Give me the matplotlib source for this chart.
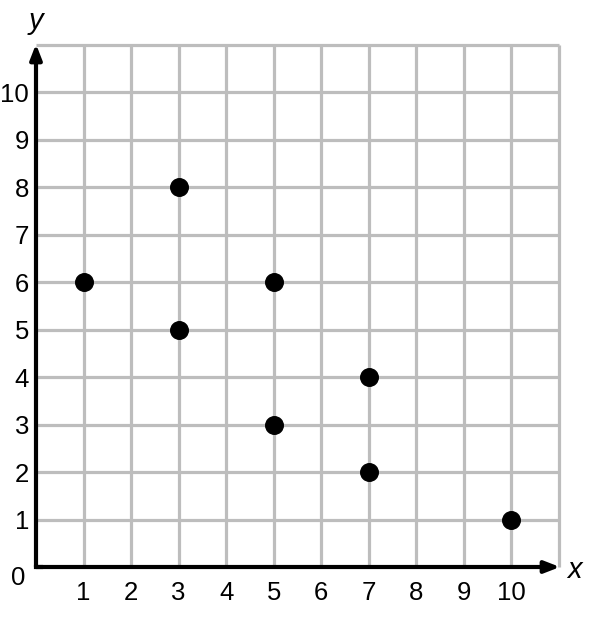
import matplotlib
matplotlib.use("Agg")
import matplotlib.pyplot as plt

plt.rcParams['font.family'] = ['Liberation Sans', 'DejaVu Sans']

x_vals = [1, 3, 3, 5, 5, 7, 7, 10]
y_vals = [6, 8, 5, 6, 3, 4, 2, 1]
tick_vals = list(range(1, 11))
tick_labels = [str(v) for v in tick_vals]
grid_max = 11

fig = plt.figure(figsize=(5.90, 6.18), dpi=100)
ax = fig.add_axes([36/590, (618-567)/618, 523/590, 522/618])
ax.set_xlim(0, grid_max)
ax.set_ylim(0, grid_max)
for s in ax.spines.values():
    s.set_visible(False)

gc = '#bdbdbd'
for v in range(1, grid_max + 1):
    ax.plot([v, v], [0, grid_max], color=gc, lw=2.3, clip_on=False, zorder=1, solid_capstyle='butt')
    ax.plot([0, grid_max], [v, v], color=gc, lw=2.3, clip_on=False, zorder=1, solid_capstyle='butt')

# axes with arrows
ax.annotate('', xy=(grid_max + 0.02, 0), xytext=(0, 0),
            arrowprops=dict(arrowstyle='-|>,head_length=0.9,head_width=0.35', color='black', lw=3, shrinkA=0, shrinkB=0),
            annotation_clip=False, zorder=3)
ax.annotate('', xy=(0, grid_max + 0.02), xytext=(0, 0),
            arrowprops=dict(arrowstyle='-|>,head_length=0.9,head_width=0.35', color='black', lw=3, shrinkA=0, shrinkB=0),
            annotation_clip=False, zorder=3)
ax.plot([0, 0.1], [0, 0], color='black', lw=3, solid_capstyle='projecting', zorder=3, clip_on=False)

ax.scatter(x_vals, y_vals, s=160, color='black', zorder=4, clip_on=False)

ax.set_xticks(tick_vals)
ax.set_xticklabels(tick_labels)
ax.set_yticks(tick_vals)
ax.set_yticklabels(tick_labels)
ax.tick_params(length=0, labelsize=18.5, pad=10)
ax.tick_params(axis='y', pad=5)

ax.text(-0.38, -0.24, '0', fontsize=18.5, ha='center', va='center')
ax.text(0, grid_max + 0.5, 'y', fontsize=21, style='italic', ha='center', va='center')
ax.text(grid_max + 0.33, -0.06, 'x', fontsize=21, style='italic', ha='center', va='center')

fig.savefig('out.png', dpi=100)
